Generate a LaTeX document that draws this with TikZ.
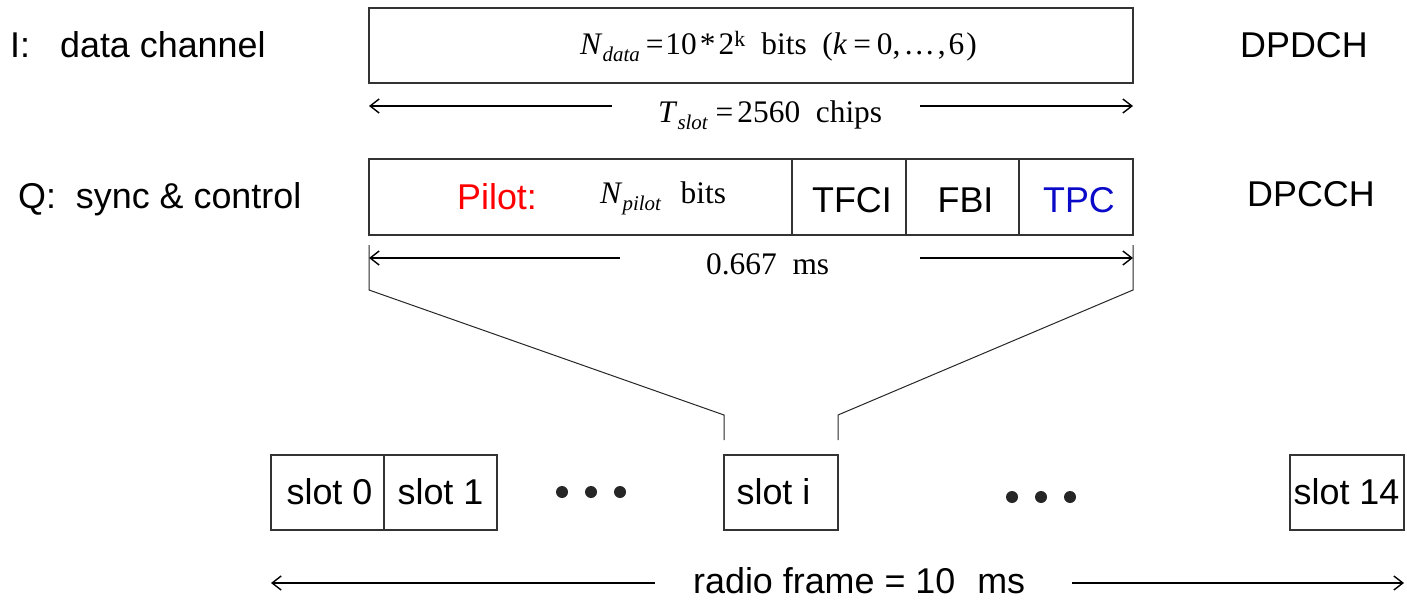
\documentclass[tikz,border=0pt]{standalone}
\usepackage{fontspec}
\setmainfont{Liberation Sans}
\newfontfamily\serfam{Liberation Serif}
\usetikzlibrary{arrows.meta}
\newcommand\subsc[1]{\raisebox{-7bp}{\fontsize{21}{21}\selectfont\itshape #1}}
\definecolor{tpcblue}{RGB}{10,10,200}
\begin{document}
\begin{tikzpicture}[x=1bp,y=-1bp,
  box/.style={draw=black!80, line width=1.2bp, inner sep=0, outer sep=0},
  lbl/.style={font=\fontsize{36}{40}\selectfont, inner sep=0},
  sertext/.style={font=\serfam\fontsize{31.5}{36}\selectfont, inner sep=0},
  dimarrow/.style={line width=1.1bp, -{Straight Barb[length=9bp,width=14bp,line width=1.4bp]}},
  conn/.style={line width=1bp, draw=black!85},
  dotnode/.style={circle, fill=black!85, inner sep=0, minimum size=12bp}]
\useasboundingbox (0,0) rectangle (1407,600);

% left labels
\node[lbl, anchor=base west] (ilbl) at (10,58) {I:\hspace{30bp}data channel};
\node[lbl, anchor=base west] (qlbl) at (18,209) {Q:~~sync \& control};
\node[lbl, anchor=base west] (dpdch) at (1240,58) {DPDCH};
\node[lbl, anchor=base west] (dpcch) at (1247,207) {DPCCH};

% data box
\node[box, minimum width=764bp, minimum height=75bp] (data) at (751,45.5) {};
\node[sertext, anchor=base west] (ndata) at (580,55)
  {\textit{N}\subsc{data}\hspace{6bp}=\hspace{2bp}10\hspace{3bp}*\hspace{3bp}2\textsuperscript{k}~~bits~~(\textit{k}\hspace{6bp}=\hspace{6bp}0,\hspace{3bp}\ldots\hspace{3bp},\hspace{3bp}6\hspace{2bp})};

% T_slot dimension
\node[sertext, anchor=base west] (tslot) at (658,123)
  {\textit{T}\subsc{slot}\hspace{8bp}=\hspace{4bp}2560~~chips};
\coordinate (tsA) at (612,106);
\coordinate (tsB) at (369,106);
\coordinate (tsC) at (920,106);
\coordinate (tsD) at (1133,106);
\draw[dimarrow] (tsA) -- (tsB);
\draw[dimarrow] (tsC) -- (tsD);

% control box
\node[box, minimum width=423bp, minimum height=76bp] (pilot) at (580.5,197) {};
\node[box, minimum width=114bp, minimum height=76bp] (tfci) at (849,197) {};
\node[box, minimum width=113bp, minimum height=76bp] (fbi) at (962.5,197) {};
\node[box, minimum width=114bp, minimum height=76bp] (tpc) at (1076,197) {};
\node[lbl, anchor=base west, text=red] (pilotlbl) at (457,210) {Pilot:};
\node[sertext, anchor=base west] (npilot) at (600,204)
  {\textit{N}\subsc{pilot}\hspace{4bp}~~bits};
\node[lbl, anchor=base] (tfcilbl) at (852,212) {TFCI};
\node[lbl, anchor=base] (fbilbl) at (965.5,212) {FBI};
\node[lbl, anchor=base, text=tpcblue] (tpclbl) at (1079,212) {TPC};

% 0.667 ms dimension
\node[sertext, anchor=base west] (ms) at (706,274) {0.667~~ms};
\coordinate (msA) at (620,258);
\coordinate (msB) at (369,258);
\coordinate (msC) at (920,258);
\coordinate (msD) at (1133,258);
\draw[dimarrow] (msA) -- (msB);
\draw[dimarrow] (msC) -- (msD);

% slots
\node[box, minimum width=113bp, minimum height=75bp] (s0) at (327.5,492.5) {};
\node[box, minimum width=113bp, minimum height=75bp] (s1) at (440.5,492.5) {};
\node[box, minimum width=114bp, minimum height=75bp] (si) at (781,492.5) {};
\node[box, minimum width=114bp, minimum height=75bp] (s14) at (1347,492.5) {};
\node[lbl, anchor=base] (s0t) at (329.5,504) {slot 0};
\node[lbl, anchor=base] (s1t) at (440.5,504) {slot 1};
\node[lbl, anchor=base] (sit) at (773.5,504) {slot i};
\node[lbl, anchor=base] (s14t) at (1346.5,504) {slot 14};

% dots
\node[dotnode] (d1) at (562,492) {};
\node[dotnode] (d2) at (591,492) {};
\node[dotnode] (d3) at (620,492) {};
\node[dotnode] (d4) at (1012,497) {};
\node[dotnode] (d5) at (1041,497) {};
\node[dotnode] (d6) at (1070,497) {};

% zoom lines
\coordinate (zl0) at (369,245);
\coordinate (zl1) at (369,290);
\coordinate (zl2) at (724,415);
\coordinate (zl3) at (724,440);
\coordinate (zr0) at (1133,245);
\coordinate (zr1) at (1133,290);
\coordinate (zr2) at (838,415);
\coordinate (zr3) at (838,440);
\draw[conn] (zl0) -- (zl1) -- (zl2) -- (zl3);
\draw[conn] (zr0) -- (zr1) -- (zr2) -- (zr3);

% radio frame
\node[lbl, anchor=base west] (rf) at (693,593) {radio frame = 10\hspace{22bp}ms};
\coordinate (rfA) at (655,583);
\coordinate (rfB) at (271,583);
\coordinate (rfC) at (1072,583);
\coordinate (rfD) at (1404,583);
\draw[dimarrow] (rfA) -- (rfB);
\draw[dimarrow] (rfC) -- (rfD);
\end{tikzpicture}
\end{document}
